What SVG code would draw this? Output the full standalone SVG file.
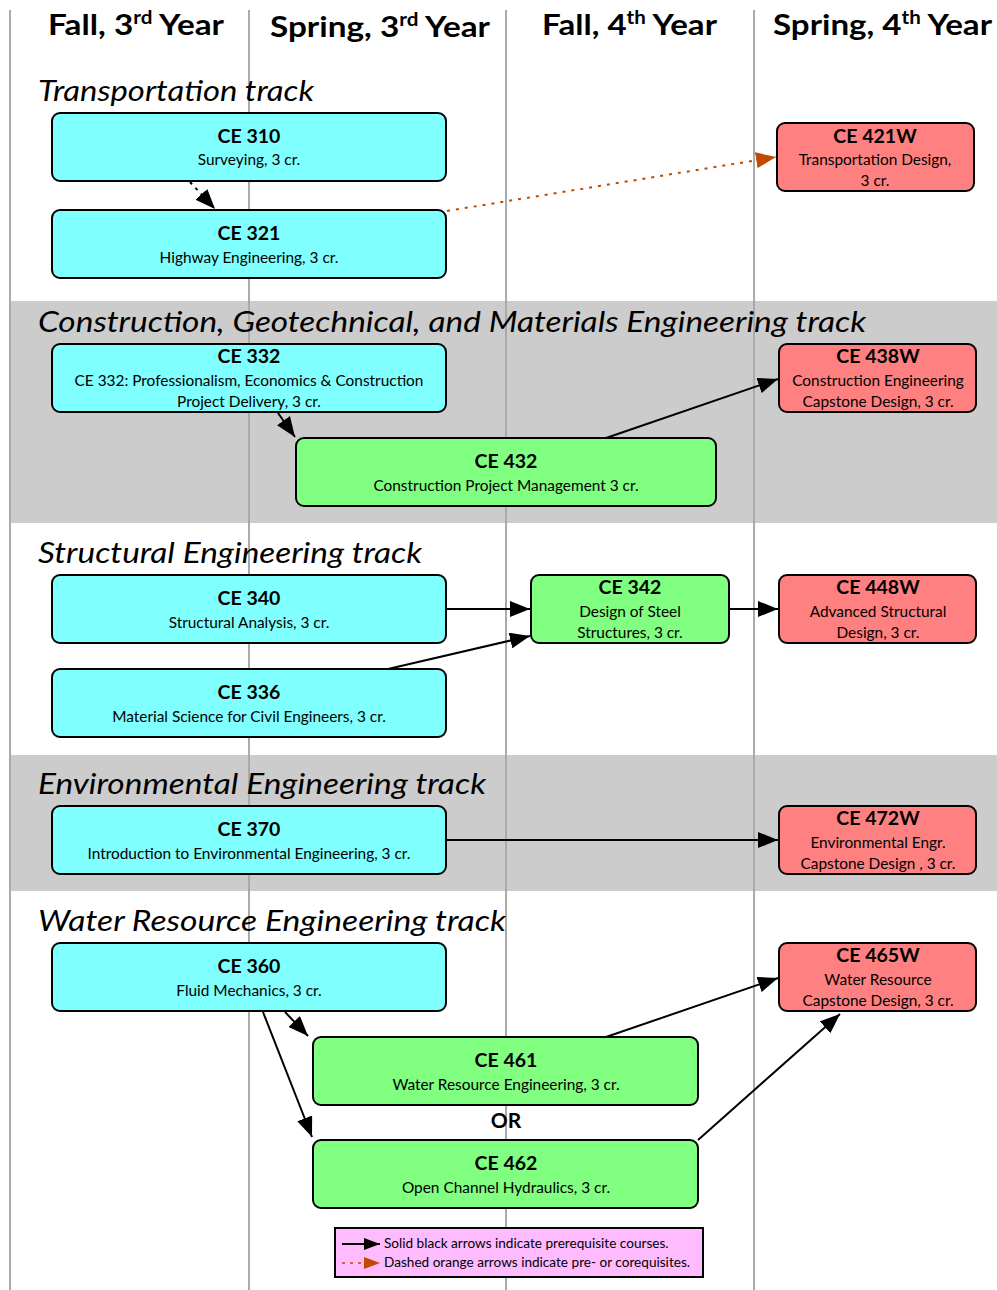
<svg xmlns="http://www.w3.org/2000/svg" width="997" height="1290" viewBox="0 0 997 1290">
<defs>
<style>
.band{fill:#cccccc}
.col{stroke:#aaaaaa;stroke-width:2}
.hdr{font-family:Lato,"Liberation Sans",sans-serif;font-weight:bold;font-size:29px;fill:#000}
.trk{font-family:Lato,"Liberation Sans",sans-serif;font-style:italic;font-size:29px;fill:#000}
.node{stroke:#000;stroke-width:2}
.cyan{fill:#80ffff}
.green{fill:#80ff80}
.red{fill:#ff8080}
.t{font-family:Lato,"Liberation Sans",sans-serif;font-weight:bold;font-size:19.5px;fill:#000;text-anchor:middle}
.s{font-family:Lato,"Liberation Sans",sans-serif;font-size:15.4px;fill:#000;text-anchor:middle}
.or{font-family:Lato,"Liberation Sans",sans-serif;font-weight:bold;font-size:21px;fill:#000;text-anchor:middle}
.lg{font-family:Lato,"Liberation Sans",sans-serif;font-size:13.6px;fill:#000}
.e{stroke:#000;stroke-width:2;fill:none}
.eo{stroke:#c04a00;stroke-width:2;fill:none;stroke-dasharray:3 6}
</style>
<marker id="ab" markerUnits="userSpaceOnUse" markerWidth="22" markerHeight="16" refX="20" refY="8" orient="auto"><path d="M0,0 L20,8 L0,16 Z" fill="#000"/></marker>
<marker id="ao" markerUnits="userSpaceOnUse" markerWidth="22" markerHeight="16" refX="20" refY="8" orient="auto"><path d="M0,0 L20,8 L0,16 Z" fill="#c04a00"/></marker>
<marker id="abs" markerUnits="userSpaceOnUse" markerWidth="18" markerHeight="12" refX="16" refY="6" orient="auto"><path d="M0,0 L16,6 L0,12 Z" fill="#000"/></marker>
<marker id="aos" markerUnits="userSpaceOnUse" markerWidth="18" markerHeight="12" refX="16" refY="6" orient="auto"><path d="M0,0 L16,6 L0,12 Z" fill="#c04a00"/></marker>
</defs>
<rect width="997" height="1290" fill="#fff"/>
<g id="bands">
<rect class="band" x="10" y="301" width="987" height="222"/>
<rect class="band" x="10" y="755" width="987" height="136"/>
</g>
<g id="columns">
<line class="col" x1="10" y1="10" x2="10" y2="1290"/>
<line class="col" x1="249" y1="10" x2="249" y2="1290"/>
<line class="col" x1="506" y1="10" x2="506" y2="1290"/>
<line class="col" x1="754" y1="10" x2="754" y2="1290"/>
</g>
<g id="headers">
<text class="hdr" x="48" y="35" textLength="176" lengthAdjust="spacingAndGlyphs">Fall, 3<tspan font-size="18" dy="-11">rd</tspan><tspan dy="11"> Year</tspan></text>
<text class="hdr" x="270" y="37" textLength="220" lengthAdjust="spacingAndGlyphs">Spring, 3<tspan font-size="18" dy="-11">rd</tspan><tspan dy="11"> Year</tspan></text>
<text class="hdr" x="542" y="35" textLength="175" lengthAdjust="spacingAndGlyphs">Fall, 4<tspan font-size="18" dy="-11">th</tspan><tspan dy="11"> Year</tspan></text>
<text class="hdr" x="773" y="35" textLength="219" lengthAdjust="spacingAndGlyphs">Spring, 4<tspan font-size="18" dy="-11">th</tspan><tspan dy="11"> Year</tspan></text>
</g>
<g id="tracks">
<text class="trk" x="38" y="101" textLength="276" lengthAdjust="spacingAndGlyphs">Transportation track</text>
<text class="trk" x="38" y="332" textLength="828" lengthAdjust="spacingAndGlyphs">Construction, Geotechnical, and Materials Engineering track</text>
<text class="trk" x="38" y="563" textLength="384" lengthAdjust="spacingAndGlyphs">Structural Engineering track</text>
<text class="trk" x="38" y="794" textLength="448" lengthAdjust="spacingAndGlyphs">Environmental Engineering track</text>
<text class="trk" x="38" y="931" textLength="468" lengthAdjust="spacingAndGlyphs">Water Resource Engineering track</text>
</g>
<g id="ce310"><rect class="node cyan" x="52" y="113" width="394" height="68" rx="8"/><text class="t" x="249" y="143">CE 310</text><text class="s" x="249" y="165">Surveying, 3 cr.</text></g>
<g id="ce321"><rect class="node cyan" x="52" y="210" width="394" height="68" rx="8"/><text class="t" x="249" y="240">CE 321</text><text class="s" x="249" y="263">Highway Engineering, 3 cr.</text></g>
<g id="ce421w"><rect class="node red" x="777" y="123" width="197" height="68" rx="8"/><text class="t" x="875" y="143">CE 421W</text><text class="s" x="875" y="165">Transportation Design,</text><text class="s" x="875" y="186">3 cr.</text></g>
<g id="ce332"><rect class="node cyan" x="52" y="344" width="394" height="68" rx="8"/><text class="t" x="249" y="363">CE 332</text><text class="s" x="249" y="386">CE 332: Professionalism, Economics &amp; Construction</text><text class="s" x="249" y="407">Project Delivery, 3 cr.</text></g>
<g id="ce438w"><rect class="node red" x="779" y="344" width="197" height="68" rx="8"/><text class="t" x="878" y="363">CE 438W</text><text class="s" x="878" y="386">Construction Engineering</text><text class="s" x="878" y="407">Capstone Design, 3 cr.</text></g>
<g id="ce432"><rect class="node green" x="296" y="438" width="420" height="68" rx="8"/><text class="t" x="506" y="468">CE 432</text><text class="s" x="506" y="491">Construction Project Management 3 cr.</text></g>
<g id="ce340"><rect class="node cyan" x="52" y="575" width="394" height="68" rx="8"/><text class="t" x="249" y="605">CE 340</text><text class="s" x="249" y="628">Structural Analysis, 3 cr.</text></g>
<g id="ce342"><rect class="node green" x="531" y="575" width="198" height="68" rx="8"/><text class="t" x="630" y="594">CE 342</text><text class="s" x="630" y="617">Design of Steel</text><text class="s" x="630" y="638">Structures, 3 cr.</text></g>
<g id="ce448w"><rect class="node red" x="779" y="575" width="197" height="68" rx="8"/><text class="t" x="878" y="594">CE 448W</text><text class="s" x="878" y="617">Advanced Structural</text><text class="s" x="878" y="638">Design, 3 cr.</text></g>
<g id="ce336"><rect class="node cyan" x="52" y="669" width="394" height="68" rx="8"/><text class="t" x="249" y="699">CE 336</text><text class="s" x="249" y="722">Material Science for Civil Engineers, 3 cr.</text></g>
<g id="ce370"><rect class="node cyan" x="52" y="806" width="394" height="68" rx="8"/><text class="t" x="249" y="836">CE 370</text><text class="s" x="249" y="859">Introduction to Environmental Engineering, 3 cr.</text></g>
<g id="ce472w"><rect class="node red" x="779" y="806" width="197" height="68" rx="8"/><text class="t" x="878" y="825">CE 472W</text><text class="s" x="878" y="848">Environmental Engr.</text><text class="s" x="878" y="869">Capstone Design , 3 cr.</text></g>
<g id="ce360"><rect class="node cyan" x="52" y="943" width="394" height="68" rx="8"/><text class="t" x="249" y="973">CE 360</text><text class="s" x="249" y="996">Fluid Mechanics, 3 cr.</text></g>
<g id="ce465w"><rect class="node red" x="779" y="943" width="197" height="68" rx="8"/><text class="t" x="878" y="962">CE 465W</text><text class="s" x="878" y="985">Water Resource</text><text class="s" x="878" y="1006">Capstone Design, 3 cr.</text></g>
<g id="ce461"><rect class="node green" x="313" y="1037" width="385" height="68" rx="8"/><text class="t" x="506" y="1067">CE 461</text><text class="s" x="506" y="1090">Water Resource Engineering, 3 cr.</text></g>
<g id="or"><text class="or" x="506" y="1128">OR</text></g>
<g id="ce462"><rect class="node green" x="313" y="1140" width="385" height="68" rx="8"/><text class="t" x="506" y="1170">CE 462</text><text class="s" x="506" y="1193">Open Channel Hydraulics, 3 cr.</text></g>
<g id="connectors">
<line class="e" x1="190" y1="182" x2="215" y2="209" stroke-dasharray="3 5" marker-end="url(#ab)"/>
<line class="eo" x1="447" y1="211" x2="776" y2="157" marker-end="url(#ao)"/>
<line class="e" x1="278" y1="413" x2="295" y2="437" marker-end="url(#ab)"/>
<line class="e" x1="606" y1="438" x2="778" y2="379" marker-end="url(#ab)"/>
<line class="e" x1="446" y1="609" x2="530" y2="609" marker-end="url(#ab)"/>
<line class="e" x1="388" y1="669" x2="530" y2="636" marker-end="url(#ab)"/>
<line class="e" x1="729" y1="609" x2="778" y2="609" marker-end="url(#ab)"/>
<line class="e" x1="446" y1="840" x2="778" y2="840" marker-end="url(#ab)"/>
<line class="e" x1="285" y1="1012" x2="308" y2="1036" marker-end="url(#ab)"/>
<line class="e" x1="263" y1="1012" x2="312" y2="1137" marker-end="url(#ab)"/>
<line class="e" x1="606" y1="1037" x2="778" y2="978" marker-end="url(#ab)"/>
<line class="e" x1="698" y1="1140" x2="840" y2="1014" marker-end="url(#ab)"/>
</g>
<g id="legend">
<rect x="335" y="1228" width="368" height="49" fill="#ffbbff" stroke="#000" stroke-width="2"/>
<line x1="342" y1="1244" x2="380" y2="1244" stroke="#000" stroke-width="2" marker-end="url(#abs)"/>
<line x1="342" y1="1263" x2="380" y2="1263" stroke="#c04a00" stroke-width="1.5" stroke-dasharray="3 5" marker-end="url(#aos)"/>
<text class="lg" x="384" y="1248">Solid black arrows indicate prerequisite courses.</text>
<text class="lg" x="384" y="1267">Dashed orange arrows indicate pre- or corequisites.</text>
</g>
</svg>
